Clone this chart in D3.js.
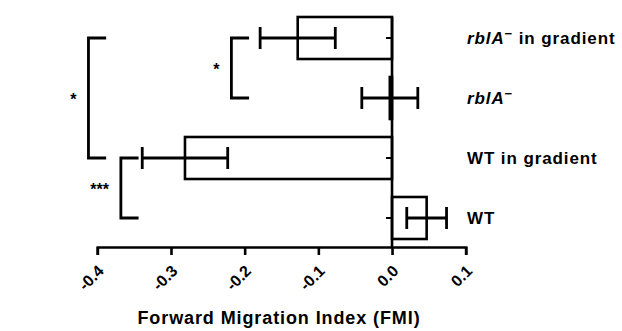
<!DOCTYPE html>
<html>
<head>
<meta charset="utf-8">
<script src="https://cdn.jsdelivr.net/npm/d3@7"></script>
<style>
  body { margin: 0; background: #fff; }
  text { font-family: "Liberation Sans", Arial, sans-serif; font-weight: bold; fill: #000; }
</style>
</head>
<body>
<div id="container"></div>
<script>
// datos
var categories = ["rblA- in gradient", "rblA-", "WT in gradient", "WT"];
var fmi = [-0.128, -0.003, -0.281, 0.047];
var sem = [0.051, 0.038, 0.058, 0.027];
var xTicks = [-0.4, -0.3, -0.2, -0.1, 0.0, 0.1];

// comparaciones (categoria origen, categoria destino, nivel en FMI, etiqueta)
var compFrom = ["rblA- in gradient", "rblA- in gradient", "WT in gradient"];
var compTo = ["WT in gradient", "rblA-", "WT"];
var compLevel = [-0.412, -0.218, -0.368];
var compLabel = ["*", "*", "***"];

var w = 622, h = 331;
var armLen = 0.024;
var capH = 11;

var svg = d3.select("#container").append("svg")
    .attr("width", w)
    .attr("height", h);

var x = d3.scaleLinear()
    .domain([-0.4, 0.1])
    .range([97.3, 465.7]);

var y = d3.scaleBand()
    .domain(categories)
    .range([8, 248])
    .paddingInner(0.3)
    .paddingOuter(0.15);

var axisY = 247;

var data = categories.map(function(c, i) {
    return { cat: c, v: fmi[i], e: sem[i] };
});

// barras
svg.append("g").selectAll("rect")
    .data(data)
    .enter()
    .append("rect")
    .attr("x", function(d) { return x(Math.min(0, d.v)); })
    .attr("y", function(d) { return y(d.cat); })
    .attr("width", function(d) { return Math.abs(x(d.v) - x(0)); })
    .attr("height", y.bandwidth())
    .attr("fill", "#fff")
    .attr("stroke", "#000")
    .attr("stroke-width", 2.6);

// barras de error
var eb = svg.append("g").attr("stroke", "#000").attr("stroke-width", 2.8);
data.forEach(function(d) {
    var cy = y(d.cat) + y.bandwidth() / 2;
    eb.append("line")
        .attr("x1", x(d.v - d.e)).attr("x2", x(d.v + d.e))
        .attr("y1", cy).attr("y2", cy);
    [d.v - d.e, d.v + d.e].forEach(function(v) {
        eb.append("line")
            .attr("x1", x(v)).attr("x2", x(v))
            .attr("y1", cy - capH).attr("y2", cy + capH);
    });
});

// eje x
var xAxis = svg.append("g")
    .attr("transform", "translate(0," + axisY + ")")
    .call(d3.axisBottom(x).tickValues(xTicks).tickSize(8).tickFormat(d3.format(".1f")));
xAxis.select(".domain").attr("stroke-width", 2.6).attr("stroke", "#000");
xAxis.selectAll(".tick line").attr("stroke-width", 2.6).attr("stroke", "#000");
xAxis.selectAll(".tick text")
    .attr("font-size", 16)
    .attr("font-family", "'Liberation Sans', Arial, sans-serif")
    .attr("font-weight", "bold")
    .attr("fill", "#000")
    .attr("text-anchor", "end")
    .attr("dy", null)
    .attr("y", 0)
    .attr("transform", "translate(7,25) rotate(-45)")
    .text(function(d) { return d3.format(".1f")(d).replace("−", "-"); });

// eje y (linea cero)
svg.append("line")
    .attr("x1", x(0)).attr("x2", x(0))
    .attr("y1", y(categories[0])).attr("y2", axisY)
    .attr("stroke", "#000")
    .attr("stroke-width", 2.6);

svg.append("g").selectAll("line")
    .data(categories)
    .enter()
    .append("line")
    .attr("x1", x(0) - 6).attr("x2", x(0))
    .attr("y1", function(d) { return y(d) + y.bandwidth() / 2; })
    .attr("y2", function(d) { return y(d) + y.bandwidth() / 2; })
    .attr("stroke", "#000")
    .attr("stroke-width", 2);

// etiquetas de categorias
var labels = svg.append("g").selectAll("text")
    .data(categories)
    .enter()
    .append("text")
    .attr("x", 467)
    .attr("y", function(d) { return y(d) + y.bandwidth() / 2; })
    .attr("dy", "0.36em")
    .attr("font-size", 17)
    .attr("letter-spacing", 0.9);

labels.each(function(d) {
    var t = d3.select(this);
    if (d.indexOf("rblA-") === 0) {
        t.append("tspan").attr("font-style", "italic").text("rblA");
        t.append("tspan").attr("font-size", 13).attr("dy", -6).text("\u2212");
        var rest = d.replace("rblA-", "");
        if (rest) t.append("tspan").attr("dy", 6).text(rest);
    } else {
        t.text(d);
    }
});

// titulo eje x
svg.append("text")
    .attr("x", 279)
    .attr("y", 324)
    .attr("text-anchor", "middle")
    .attr("font-size", 18)
    .attr("letter-spacing", 0.9)
    .text("Forward Migration Index (FMI)");

// corchetes de significancia
var br = svg.append("g");
compFrom.forEach(function(f, i) {
    var y1 = y(f) + y.bandwidth() / 2;
    var y2 = y(compTo[i]) + y.bandwidth() / 2;
    var x0 = x(compLevel[i]);
    var x1 = x(compLevel[i] + armLen);
    br.append("path")
        .attr("d", "M" + x1 + "," + y1 + "H" + x0 + "V" + y2 + "H" + x1)
        .attr("fill", "none")
        .attr("stroke", "#000")
        .attr("stroke-width", 2.8);
    br.append("text")
        .attr("x", x0 - 12)
        .attr("y", (y1 + y2) / 2 + 7)
        .attr("text-anchor", "end")
        .attr("font-size", 16)
        .text(compLabel[i]);
});
</script>
</body>
</html>
